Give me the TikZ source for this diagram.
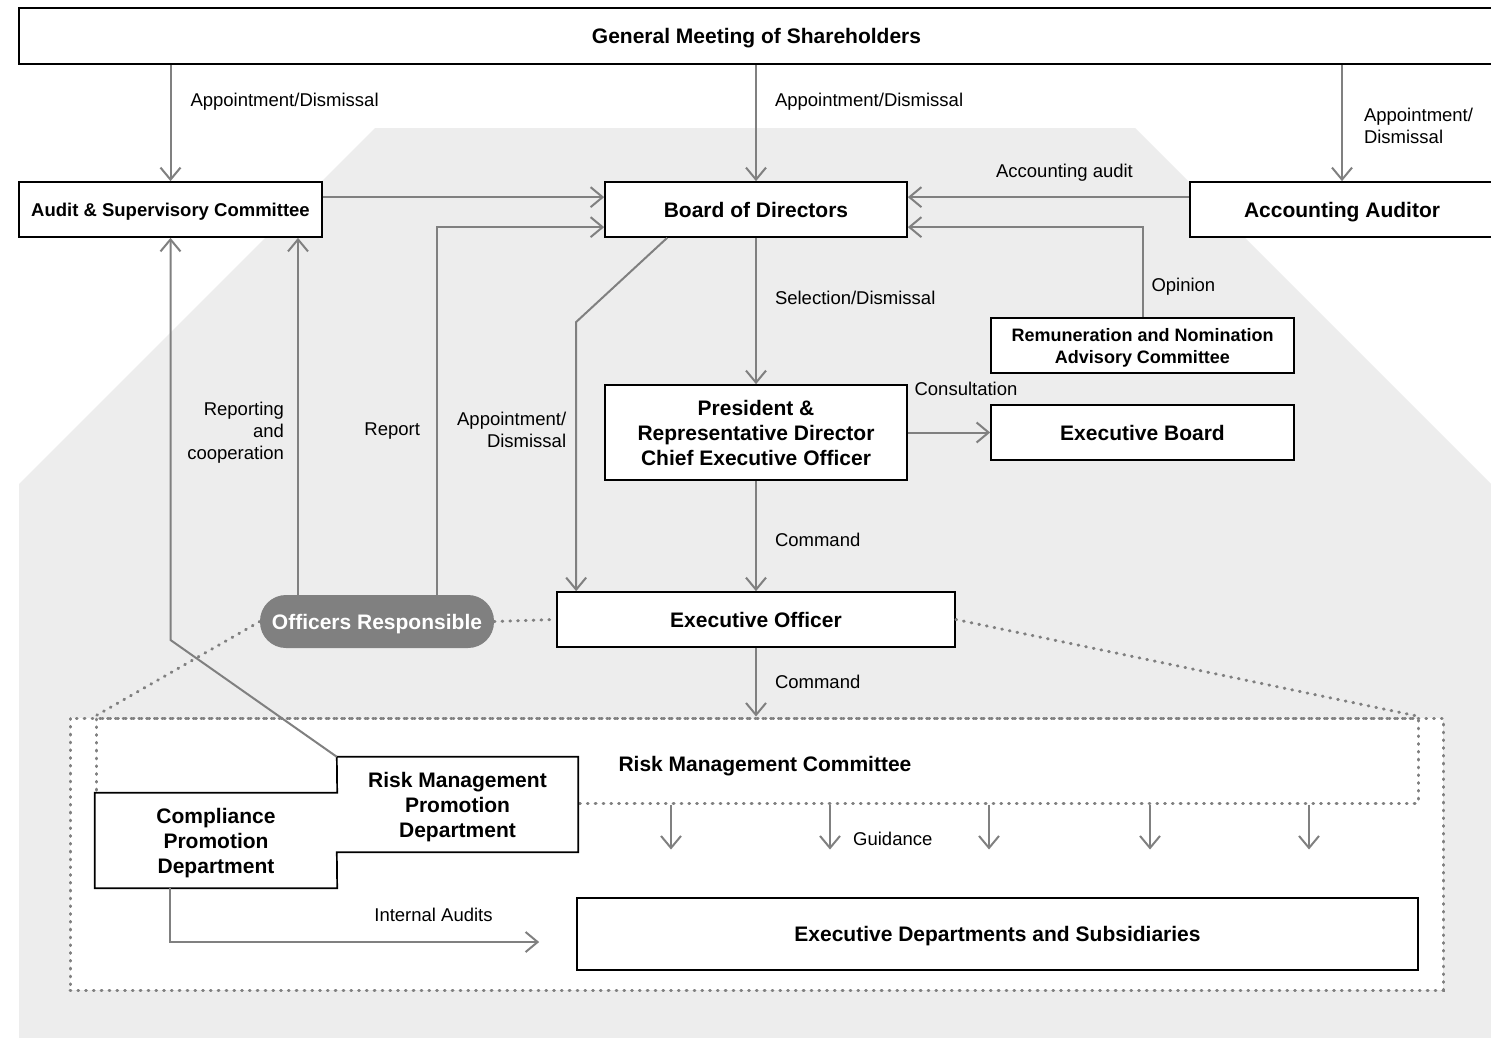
\documentclass[tikz,border=0pt]{standalone}
\usepackage{fontspec}
\setmainfont{Liberation Sans}
\usetikzlibrary{positioning,arrows.meta,calc}
\usepackage{xcolor}
\definecolor{bggray}{HTML}{EDEDED}
\definecolor{arrowgray}{HTML}{808080}

\begin{document}
\begin{tikzpicture}[
      x=1pt, y=-1pt,
      box/.style={rectangle, draw=black, line width=1.7pt, fill=white, align=center, inner sep=0pt, text depth=0pt, font=\fontsize{21}{25}\selectfont\bfseries},
      smallbox/.style={box, font=\fontsize{18.5}{22}\selectfont\bfseries},
      textonly/.style={rectangle, fill=white, align=center, inner sep=0pt, text depth=0pt, font=\fontsize{21}{25}\selectfont\bfseries},
      pill/.style={rectangle, rounded corners=26pt, fill=arrowgray, text=white, inner sep=0pt, text depth=0pt, font=\fontsize{21}{25}\selectfont\bfseries},
      dotline/.style={draw=arrowgray, line width=3pt, dash pattern=on 0.8pt off 7pt, line cap=round},
      zonebox/.style={rectangle, dotline, inner sep=0pt},
      lbl/.style={font=\fontsize{18.5}{22}\selectfont, inner sep=0pt, text depth=0pt},
      line/.style={draw=arrowgray, line width=2pt, -{Straight Barb[length=12pt, width=20pt, line width=2pt]}}
  ]
      \useasboundingbox (0,0) rectangle (1491,1037);
      \fill[white] (0,0) rectangle (1491,1037);
      % Company panel behind the executive side
      \fill[bggray] (375,128) -- (1135,128) -- (1494,487) -- (1494,1040) -- (19,1040) -- (19,484) -- cycle;

      % Nodes - governance bodies
      \node (gms) [box, minimum width=1475pt, minimum height=56pt] at (756.5,36) {General Meeting of Shareholders};
      \node (asc) [smallbox, minimum width=303pt, minimum height=55pt] at (170.5,209.5) {Audit \& Supervisory Committee};
      \node (bod) [box, minimum width=302pt, minimum height=55pt] at (756,209.5) {Board of Directors};
      \node (auditor) [box, minimum width=304pt, minimum height=55pt] at (1342,209.5) {Accounting Auditor};
      \node (rnac) [box, font=\fontsize{18}{22}\selectfont\bfseries, minimum width=303pt, minimum height=55pt] at (1142.5,345.5) {Remuneration and Nomination\\Advisory Committee};
      \node (ceo) [box, minimum width=302pt, minimum height=95pt] at (756,432.5) {President \&\\Representative Director\\Chief Executive Officer};
      \node (eboard) [box, minimum width=303pt, minimum height=55pt] at (1142.5,432.5) {Executive Board};
      \node (eo) [box, minimum width=398pt, minimum height=55pt] at (756,619.5) {Executive Officer};
      \node (officers) [pill, minimum width=234pt, minimum height=53pt] at (377,621.5) {Officers Responsible};

      % Risk management area
      \node (zone) [zonebox, fill=white, minimum width=1373pt, minimum height=272pt] at (756.5,854) {};
      \node (rmc) [zonebox, minimum width=1322pt, minimum height=85pt] at (757,760.5) {};
      \node (rmctitle) [font=\fontsize{21}{25}\selectfont\bfseries, inner sep=0pt, text depth=0pt] at ([xshift=8pt,yshift=-3pt]rmc.center) {Risk Management Committee};
      \node (cpd) [textonly, minimum width=242pt, minimum height=95pt] at (216,840.5) {Compliance\\Promotion\\Department};
      \node (rmpd) [textonly, minimum width=241pt, minimum height=95pt] at (457.5,804.5) {Risk Management\\Promotion\\Department};
      \draw[line width=1.7pt] (cpd.north west) -- (cpd.north east) -- (rmpd.north west) -- (rmpd.north east)
            -- (rmpd.south east) -- (rmpd.south west) -- (cpd.south east) -- (cpd.south west) -- cycle;
      \node (eds) [box, minimum width=841pt, minimum height=72pt] at (997.5,934) {Executive Departments and Subsidiaries};

      % Helper points for bent connectors
      \coordinate (orleft) at ([xshift=-79pt]officers.north);
      \coordinate (orright) at ([xshift=60pt]officers.north);
      \coordinate (rmcorner) at (rmpd.north west);
      \coordinate (bodleg) at ([xshift=63pt]bod.south west);
      \coordinate (eoleg) at ([xshift=20pt]eo.north west);
      \coordinate (iaend) at ([xshift=-37pt,yshift=-8pt]eds.west);

      % Connections with annotations
      \path [line] (gms.south -| asc.north) -- node[lbl, pos=.3, right=19pt] {Appointment/Dismissal} (asc.north);
      \path [line] (gms.south -| bod.north) -- node[lbl, pos=.3, right=18pt] {Appointment/Dismissal} (bod.north);
      \path [line] (gms.south -| auditor.north) -- node[lbl, pos=.52, right=21pt, align=left] {Appointment/\\Dismissal} (auditor.north);
      \path [line] ([yshift=-16pt]asc.north east) -- ([yshift=-16pt]bod.north west);
      \path [line] ([yshift=-16pt]auditor.north west) -- node[lbl, midway, above=19pt, xshift=16pt] {Accounting audit} ([yshift=-16pt]bod.north east);
      \path [line] (rnac.north) |- node[lbl, pos=.18, right=8pt] {Opinion} ([yshift=-46pt]bod.north east);
      \path [line] (orright) |- node[lbl, pos=.225, left=16pt] {Report} ([yshift=-46pt]bod.north west);
      \path [line] (orleft) -- node[lbl, pos=.46, left=13pt, align=right] {Reporting\\and\\cooperation} (orleft |- asc.south);
      \path [line] (rmcorner) -- (asc.south |- 0,640) -- (asc.south);
      \path [line] (bodleg) -- (eoleg |- 0,322) -- node[lbl, pos=.4, left=9pt, align=right] {Appointment/\\Dismissal} (eoleg);
      \path [line] (bod) -- node[lbl, pos=.41, right=18pt] {Selection/Dismissal} (ceo);
      \path [line] (ceo) -- node[lbl, midway, above=36pt, xshift=17pt] {Consultation} (eboard);
      \path [line] (ceo) -- node[lbl, pos=.53, right=18pt] {Command} (eo);
      \path [line] (eo.south) -- node[lbl, pos=.5, right=18pt] {Command} (eo.south |- rmc.north);

      % Dotted links to the committee
      \draw[dotline] (officers.east) -- (eo.west);
      \draw[dotline] (officers.west) -- (rmc.north west);
      \draw[dotline] (eo.east) -- (rmc.north east);

      % Guidance arrows
      \foreach \gx [count=\i] in {671,830,989,1150,1309} {
        \coordinate (gtop\i) at (rmc.south -| \gx,0);
        \coordinate (gend\i) at ([yshift=-45pt]gtop\i);
        \path [line] (gtop\i) -- (gend\i);
      }
      \node (guide) [lbl, anchor=west] at ([xshift=23pt,yshift=11pt]gend2) {Guidance};

      \path [line] ([xshift=75pt]cpd.south west) |- node[lbl, pos=.857, above=20pt] {Internal Audits} (iaend);
  \end{tikzpicture}
\end{document}
